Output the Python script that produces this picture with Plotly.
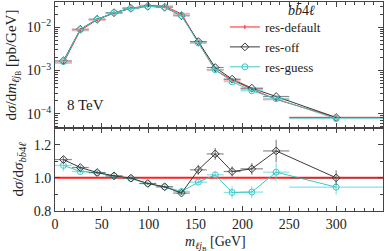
import plotly.graph_objects as go

# ---- data ----
bin_edges = [0, 18, 36, 54, 72, 90, 108, 126, 144, 162, 180, 198, 222, 250, 350]
bin_centers = [9, 27, 45, 63, 81, 99, 117, 135, 153, 171, 189, 210, 236, 300]
bin_halfwidths = [9, 9, 9, 9, 9, 9, 9, 9, 9, 9, 9, 12, 14, 50]

xs_default = [1.50e-3, 8.5e-3, 1.48e-2, 2.14e-2, 2.75e-2, 3.16e-2, 3.07e-2, 2.04e-2,
              4.44e-3, 1.02e-3, 6.07e-4, 3.70e-4, 2.15e-4, 8.2e-5]
xs_off = [1.67e-3, 9.0e-3, 1.53e-2, 2.17e-2, 2.75e-2, 3.05e-2, 2.90e-2, 1.85e-2,
          4.65e-3, 1.17e-3, 6.3e-4, 3.9e-4, 2.5e-4, 8.2e-5]
xs_guess = [1.61e-3, 8.8e-3, 1.52e-2, 2.16e-2, 2.74e-2, 3.05e-2, 2.90e-2, 1.87e-2,
            4.32e-3, 1.04e-3, 5.5e-4, 3.4e-4, 2.22e-4, 7.7e-5]

ratio_default = [1.0] * 15
ratio_off = [1.11, 1.062, 1.032, 1.012, 0.998, 0.966, 0.946, 0.908,
             1.048, 1.144, 1.038, 1.054, 1.162, 1.0]
ratio_off_err = [0.02, 0.012, 0.01, 0.008, 0.008, 0.008, 0.008, 0.012,
                 0.03, 0.035, 0.03, 0.035, 0.068, 0.045]
ratio_guess = [1.075, 1.038, 1.03, 1.01, 0.995, 0.965, 0.945, 0.918,
               0.974, 1.018, 0.912, 0.914, 1.034, 0.944]
ratio_guess_err = [0.035, 0.012, 0.01, 0.008, 0.008, 0.008, 0.008, 0.012,
                   0.015, 0.02, 0.035, 0.035, 0.055, 0.045]

y_tickvals = [1e-4, 1e-3, 1e-2]
y_ticktext = ["10<sup>−4</sup>", "10<sup>−3</sup>", "10<sup>−2</sup>"]
x_tickvals = [0, 50, 100, 150, 200, 250, 300, 350]
r_tickvals = [0.8, 1.0, 1.2]
r_ticktext = ["0.8", "1.0", "1.2"]

RED = "#ff2020"
PINK = "rgba(255,120,120,0.6)"
DARK = "#3a3a3a"
GRAY = "rgba(90,90,90,0.7)"
CYAN = "#3cc8c8"
LCYAN = "rgba(80,215,215,0.7)"
FONT = "Liberation Serif"

fig = go.Figure()

# top panel
fig.add_trace(go.Scatter(
    x=bin_centers, y=xs_default, mode="lines+markers", name="res-default",
    line=dict(color=RED, width=1), marker=dict(symbol="line-ns", size=3, color=RED,
                                                 line=dict(color=RED, width=1)),
    error_x=dict(type="data", array=bin_halfwidths, color=PINK, thickness=2, width=0),
    xaxis="x", yaxis="y"))
fig.add_trace(go.Scatter(
    x=bin_centers, y=xs_off, mode="lines+markers", name="res-off",
    line=dict(color=DARK, width=1),
    marker=dict(symbol="diamond-open", size=6, color=DARK, line=dict(width=1)),
    error_x=dict(type="data", array=bin_halfwidths, color=GRAY, thickness=1.2, width=0),
    xaxis="x", yaxis="y"))
fig.add_trace(go.Scatter(
    x=bin_centers, y=xs_guess, mode="lines+markers", name="res-guess",
    line=dict(color=CYAN, width=1),
    marker=dict(symbol="circle-open", size=6, color=CYAN, line=dict(width=1)),
    error_x=dict(type="data", array=bin_halfwidths, color=LCYAN, thickness=1.2, width=0),
    xaxis="x", yaxis="y"))

# ratio panel
fig.add_trace(go.Scatter(
    x=bin_edges, y=ratio_default, mode="lines", showlegend=False,
    line=dict(color=RED, width=2), xaxis="x2", yaxis="y2"))
fig.add_trace(go.Scatter(
    x=bin_centers, y=ratio_guess, mode="lines+markers", showlegend=False,
    line=dict(color=CYAN, width=1),
    marker=dict(symbol="circle-open", size=6, color=CYAN, line=dict(width=1)),
    error_x=dict(type="data", array=bin_halfwidths, color=LCYAN, thickness=1.2, width=0),
    error_y=dict(type="data", array=ratio_guess_err, color=LCYAN, thickness=1.2, width=0),
    xaxis="x2", yaxis="y2"))
fig.add_trace(go.Scatter(
    x=bin_centers, y=ratio_off, mode="lines+markers", showlegend=False,
    line=dict(color=DARK, width=1),
    marker=dict(symbol="diamond-open", size=6, color=DARK, line=dict(width=1)),
    error_x=dict(type="data", array=bin_halfwidths, color=GRAY, thickness=1.2, width=0),
    error_y=dict(type="data", array=ratio_off_err, color=GRAY, thickness=1.2, width=0),
    xaxis="x2", yaxis="y2"))

axis_common = dict(showline=True, linecolor="#444", linewidth=1, mirror="ticks",
                   ticks="inside", tickcolor="#444", showgrid=False, zeroline=False,
                   automargin=False,
                   tickfont=dict(family=FONT, size=14, color="#222"))

split = 0.397
fig.update_layout(
    width=390, height=251,
    margin=dict(l=55, r=7, t=2, b=40),
    paper_bgcolor="white", plot_bgcolor="white",
    font=dict(family=FONT, size=14, color="#222"),
    xaxis=dict(domain=[0, 1], range=[0, 350], anchor="y", tickvals=x_tickvals,
               showticklabels=False, ticklen=5,
               minor=dict(ticks="inside", ticklen=3, dtick=10, tickcolor="#444"),
               **axis_common),
    yaxis=dict(domain=[split, 1], type="log", range=[-4.33, -1.416], anchor="x",
               tickvals=y_tickvals, ticktext=y_ticktext, ticklen=5,
               minor=dict(ticks="inside", ticklen=3, tickcolor="#444",
                          tickvals=[m * 10 ** e for e in (-5, -4, -3, -2) for m in range(2, 10)]),
               title=dict(text="d<i>σ</i>/d<i>m</i><sub><i>ℓj</i><sub>B</sub></sub> [pb/GeV]",
                          font=dict(family=FONT, size=15), standoff=6),
               **axis_common),
    xaxis2=dict(domain=[0, 1], range=[0, 350], anchor="y2", tickvals=x_tickvals,
                ticklen=5, minor=dict(ticks="inside", ticklen=3, dtick=10, tickcolor="#444"),
                **axis_common),
    yaxis2=dict(domain=[0, split], range=[0.8, 1.3], anchor="x2",
                tickvals=r_tickvals, ticktext=r_ticktext, ticklen=5,
                minor=dict(ticks="inside", ticklen=3, dtick=0.1, tickcolor="#444"),
                title=dict(text="d<i>σ</i>/d<i>σ</i><sub><i>bb̄</i>4<i>ℓ</i></sub>",
                           font=dict(family=FONT, size=15), standoff=6),
                **axis_common),
    legend=dict(x=0.518, y=0.952, xanchor="left", yanchor="top",
                bgcolor="rgba(0,0,0,0)", font=dict(family=FONT, size=13),
                tracegroupgap=0, itemwidth=30),
    annotations=[
        dict(text="8 TeV", x=0.03, y=split + 0.06, xref="paper", yref="paper",
             xanchor="left", yanchor="bottom", showarrow=False,
             font=dict(family=FONT, size=15, color="#222")),
        dict(text="<i>bb̄</i>4<i>ℓ</i>", x=0.75, y=0.96, xref="paper", yref="paper",
             xanchor="center", yanchor="middle", showarrow=False,
             font=dict(family=FONT, size=14, color="#222")),
        dict(text="<i>m</i><sub><i>ℓj</i><sub>B</sub></sub> [GeV]", x=0.49, y=-0.1,
             xref="paper", yref="paper", xanchor="center", yanchor="top", showarrow=False,
             font=dict(family=FONT, size=14, color="#222")),
    ],
)

fig.write_html("out.html", config={"displayModeBar": False},
               post_script="document.body.style.margin='0';")
